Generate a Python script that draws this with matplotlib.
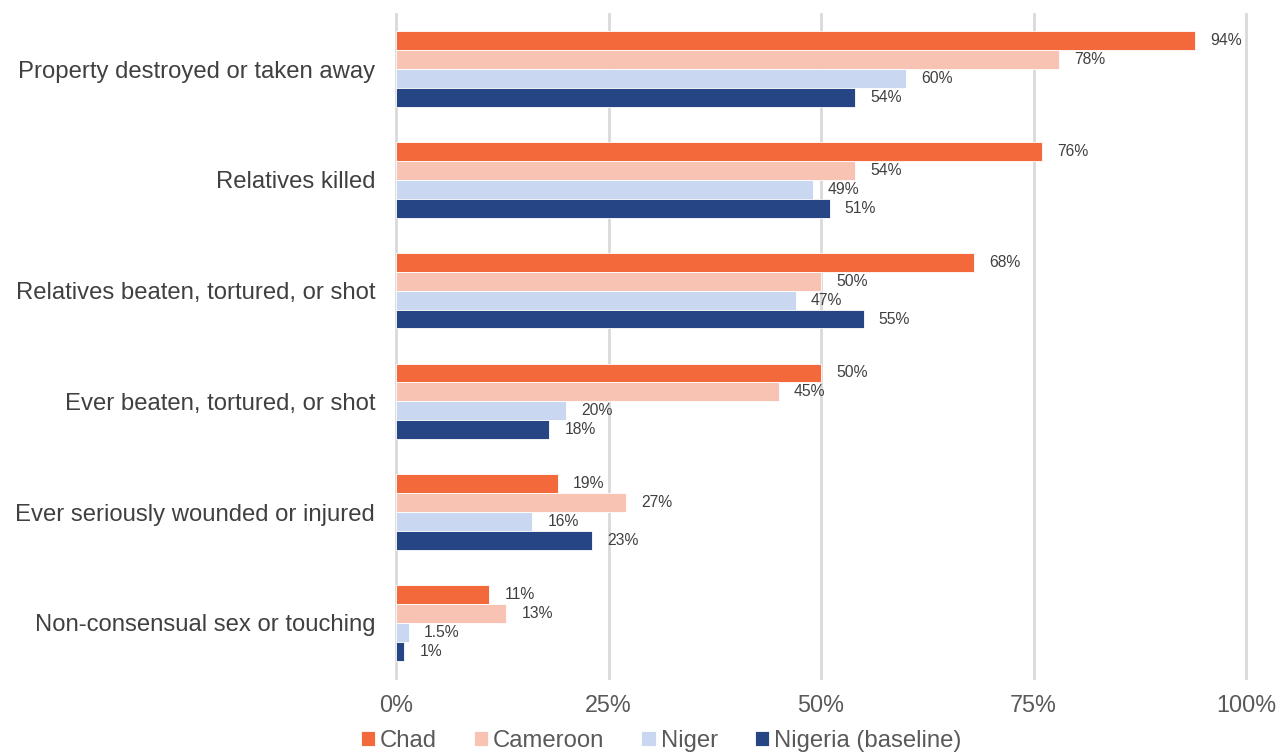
import matplotlib
matplotlib.use("Agg")
import matplotlib.pyplot as plt
import numpy as np

plt.rcParams['font.family'] = ['Liberation Sans', 'DejaVu Sans']

categories = [
    "Property destroyed or taken away",
    "Relatives killed",
    "Relatives beaten, tortured, or shot",
    "Ever beaten, tortured, or shot",
    "Ever seriously wounded or injured",
    "Non-consensual sex or touching",
]
series_names = ["Chad", "Cameroon", "Niger", "Nigeria (baseline)"]
chad = [94, 76, 68, 50, 19, 11]
cameroon = [78, 54, 50, 45, 27, 13]
niger = [60, 49, 47, 20, 16, 1.5]
nigeria = [54, 51, 55, 18, 23, 1]
value_labels = [
    ["94%", "76%", "68%", "50%", "19%", "11%"],
    ["78%", "54%", "50%", "45%", "27%", "13%"],
    ["60%", "49%", "47%", "20%", "16%", "1.5%"],
    ["54%", "51%", "55%", "18%", "23%", "1%"],
]
x_ticks = [0, 25, 50, 75, 100]
x_tick_labels = ["0%", "25%", "50%", "75%", "100%"]

colors = ["#F4693B", "#F8C3B2", "#C9D7F0", "#264585"]
series = [chad, cameroon, niger, nigeria]

fig = plt.figure(figsize=(12.86, 7.55), dpi=100)
ax = fig.add_axes([396 / 1286, 76.6 / 755, 850 / 1286, 664.8 / 755])

n_cat = len(categories)
bar_h = 0.171
y_centers = np.arange(n_cat)
for i, (vals, col, name, labs) in enumerate(zip(series, colors, series_names, value_labels)):
    offs = (i - 1.5) * bar_h
    ys = y_centers + offs
    ax.barh(ys, vals, height=bar_h, color=col, edgecolor="white", linewidth=0.6,
            label=name, zorder=3)
    for y, v, lab in zip(ys, vals, labs):
        ax.text(v + 1.8, y, lab, va="center", ha="left", fontsize=11.3,
                color="#404040", zorder=4)

ax.set_ylim(n_cat - 0.5, -0.5)
ax.set_xlim(0, 100)
ax.set_yticks(y_centers)
ax.set_yticklabels(categories, fontsize=17.2, color="#404040")
ax.set_xticks(x_ticks)
ax.set_xticklabels(x_tick_labels, fontsize=16.8, color="#595959")
ax.tick_params(axis="both", length=0)
ax.tick_params(axis="y", pad=15)
ax.tick_params(axis="x", pad=11)

ax.grid(axis="x", color="#D9D9D9", linewidth=2, zorder=0)
for gl in ax.xaxis.get_gridlines():
    gl.set_clip_on(False)
for s in ["top", "right", "bottom", "left"]:
    ax.spines[s].set_visible(False)

handles, labels = ax.get_legend_handles_labels()
leg = fig.legend(handles, labels, loc="center", bbox_to_anchor=(0.514, 0.019),
                 ncol=4, frameon=False, fontsize=17.2, handlelength=0.6,
                 handleheight=0.6, handletextpad=0.2, columnspacing=1.55)
for t in leg.get_texts():
    t.set_color("#595959")

fig.savefig("out.png", dpi=100, facecolor="white")
